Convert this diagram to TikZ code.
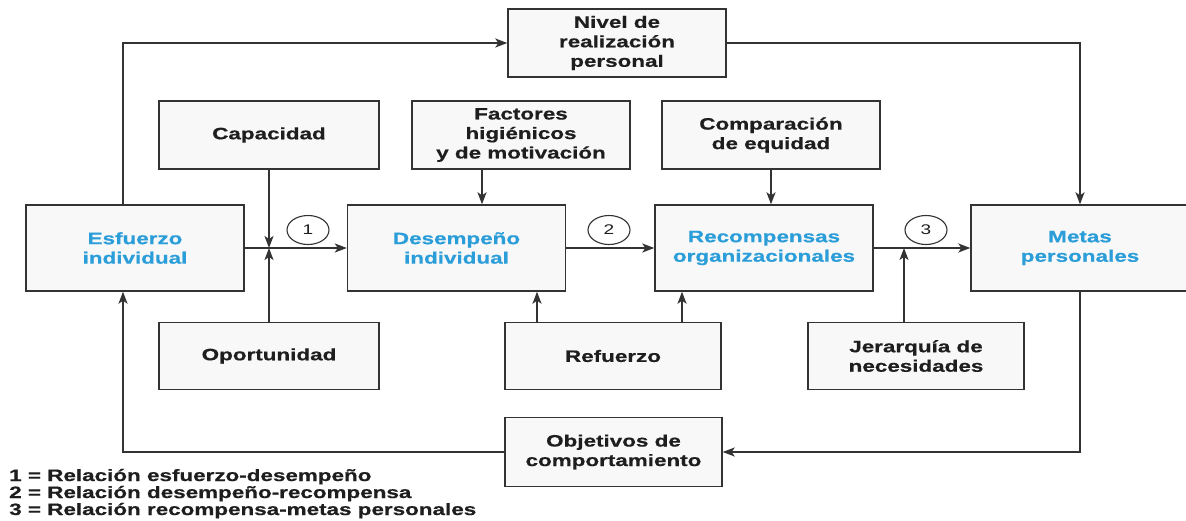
\documentclass[tikz,border=0pt]{standalone}
\usepackage{fontspec}
\setmainfont{Liberation Sans}[BoldFont={Liberation Sans Bold}, BoldFeatures={FakeBold=0.6}, FakeStretch=1.36]
\usetikzlibrary{arrows.meta,shapes.geometric}
\definecolor{lblue}{HTML}{2B9ED9}
\definecolor{lineg}{HTML}{333333}
\definecolor{boxfill}{HTML}{F8F8F8}
\definecolor{txt}{HTML}{1E1E1E}
\begin{document}
\begin{tikzpicture}[x=1pt,y=-1pt,
  box/.style={draw=lineg, line width=1.4pt, fill=boxfill, inner sep=0pt, align=center,
    minimum width=218pt, minimum height=68pt,
    font=\fontsize{16.5}{19.5}\selectfont\bfseries, text=txt},
  bluebox/.style={box, text=lblue, minimum height=86pt},
  arr/.style={draw=lineg, line width=1.6pt, -{Stealth[length=12pt,width=9pt,inset=3pt]}},
  num/.style={draw=lineg, line width=1.1pt, ellipse, minimum width=42pt, minimum height=29pt,
    inner sep=0pt, font=\fontsize{14}{14}\selectfont, text=txt},
  legend/.style={anchor=base west, inner sep=0pt, font=\fontsize{16.5}{19.5}\selectfont\bfseries, text=txt}
]
\clip (0,0) rectangle (1186,520);
\fill[white] (0,0) rectangle (1186,520);

% boxes
\node[box] (nivel) at (617,43) {Nivel de\\realización\\personal};
\node[box, minimum width=220pt] (cap) at (269,135) {Capacidad};
\node[box] (fac) at (521,135) {Factores\\higiénicos\\y de motivación};
\node[box] (comp) at (771,135) {Comparación\\de equidad};

\node[bluebox] (esf) at (135,248) {Esfuerzo\\individual};
\node[bluebox] (des) at (456.5,248) {Desempeño\\individual};
\node[bluebox] (rec) at (764,248) {Recompensas\\organizacionales};
\node[bluebox] (met) at (1080,248) {Metas\\personales};

\node[box, minimum width=220pt, minimum height=67pt] (opo) at (269,356) {Oportunidad};
\node[box, minimum width=216pt, minimum height=67pt] (ref) at (613,356) {Refuerzo};
\node[box, minimum width=216pt, minimum height=67pt] (jer) at (916,356) {Jerarquía de\\necesidades};
\node[box, minimum width=217pt, minimum height=69pt] (obj) at (613.5,452) {Objetivos de\\comportamiento};

% numbered ellipses
\node[num] (c1) at (308,230) {1};
\node[num] (c2) at (609,230) {2};
\node[num] (c3) at (926,230) {3};

% junction coordinates
\coordinate (j1) at (cap.south |- esf.east);
\coordinate (j3) at ([xshift=-12pt]jer.north |- rec.east);

% main chain
\draw[arr] (esf.east) -- (des.west);
\draw[arr] (des.east) -- (rec.west);
\draw[arr] (rec.east) -- (met.west);

% inputs
\draw[arr] (cap.south) -- (j1);
\draw[arr] (opo.north) -- (j1);
\draw[arr] ([xshift=-39pt]fac.south) -- ([xshift=-39pt]fac.south |- des.north);
\draw[arr] (comp.south) -- (comp.south |- rec.north);
\draw[arr] ([xshift=-76pt]ref.north) -- ([xshift=-76pt]ref.north |- des.south);
\draw[arr] ([xshift=69pt]ref.north) -- ([xshift=69pt]ref.north |- rec.south);
\draw[arr] ([xshift=-12pt]jer.north) -- (j3);

% feedback loops
\draw[arr] ([xshift=-12pt]esf.north) |- (nivel.west);
\draw[arr] (nivel.east) -| (met.north);
\draw[arr] (met.south) |- (obj.east);
\draw[arr] (obj.west) -| ([xshift=-12pt]esf.south);

% legend
\node[legend] (l1) at (9,481) {1 = Relación esfuerzo-desempeño};
\node[legend] (l2) at (9,498) {2 = Relación desempeño-recompensa};
\node[legend] (l3) at (9,515) {3 = Relación recompensa-metas personales};
\end{tikzpicture}
\end{document}
